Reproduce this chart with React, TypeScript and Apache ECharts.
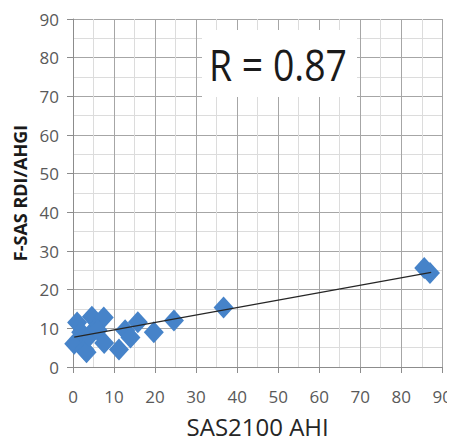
import React, { useEffect, useRef } from "react";
import * as echarts from "echarts";

// SAS2100 AHI (x) vs F-SAS RDI/AHGI (y)
const xValues = [0.3, 1.0, 2.0, 2.8, 3.3, 4.6, 5.5, 4.0, 7.5, 6.0, 7.6, 11.2, 12.7, 14.0, 15.8, 19.7, 24.6, 36.7, 85.6, 87.0];
const yValues = [6.0, 11.5, 9.0, 4.5, 3.8, 13.0, 10.0, 8.0, 12.8, 9.5, 6.2, 4.5, 9.5, 7.6, 11.6, 9.0, 12.0, 15.4, 25.6, 24.3];
// Linear trend line endpoints
const trendX = [0.3, 87.3];
const trendY = [7.7, 24.5];
const rLabel = "R = 0.87";
const xTitle = "SAS2100 AHI";
const yTitle = "F-SAS RDI/AHGI";
const axisMin = 0;
const axisMax = 90;
const axisStep = 10;

export default function App() {
  const ref = useRef<HTMLDivElement>(null);
  useEffect(() => {
    if (!ref.current) return;
    const chart = echarts.init(ref.current, undefined, { renderer: "svg" });
    const font = "'Open Sans', 'Noto Sans', sans-serif";
    const axisCommon = {
      min: axisMin,
      max: axisMax,
      interval: axisStep,
      minorTick: { show: false, splitNumber: 2 },
      minorSplitLine: { show: true, lineStyle: { color: "#dcdcdc", width: 1 } },
      splitLine: { show: true, lineStyle: { color: "#a6a6a6", width: 1 } },
      axisLine: { show: true, lineStyle: { color: "#8c8c8c", width: 1 } },
      axisTick: { show: true, length: 6, lineStyle: { color: "#8c8c8c" } },
    };
    chart.setOption({
      animation: false,
      backgroundColor: "#ffffff",
      grid: { left: 73, right: 12, top: 19, bottom: 79, containLabel: false },
      xAxis: {
        type: "value",
        ...axisCommon,
        axisLabel: { color: "#595959", fontSize: 17, fontFamily: font, margin: 21 },
        name: xTitle,
        nameLocation: "middle",
        nameGap: 47,
        nameTextStyle: { color: "#262626", fontSize: 24, fontFamily: font },
      },
      yAxis: {
        type: "value",
        ...axisCommon,
        axisLabel: { color: "#595959", fontSize: 17, fontFamily: font, margin: 14 },
        name: yTitle,
        nameLocation: "middle",
        nameGap: 42,
        nameRotate: 90,
        nameTextStyle: { color: "#1a1a1a", fontSize: 18, fontWeight: "bold", fontFamily: font },
      },
      graphic: [
        {
          type: "rect",
          shape: { x: 202, y: 30, width: 155, height: 67 },
          style: { fill: "#ffffff" },
          z: 5,
        },
        {
          type: "text",
          x: 278,
          y: 64,
          scaleX: 0.85,
          style: {
            text: rLabel,
            fill: "#1a1a1a",
            fontSize: 44,
            fontFamily: font,
            textAlign: "center",
            textVerticalAlign: "middle",
          },
          z: 6,
        },
      ],
      series: [
        {
          type: "scatter",
          data: xValues.map((x, i) => [x, yValues[i]]),
          symbol: "diamond",
          symbolSize: [20, 22],
          itemStyle: { color: "#4683c9", opacity: 1 },
          z: 3,
        },
        {
          type: "line",
          data: trendX.map((x, i) => [x, trendY[i]]),
          symbol: "none",
          lineStyle: { color: "#262626", width: 1.3 },
          z: 4,
        },
      ],
    });
    return () => chart.dispose();
  }, []);
  return <div ref={ref} style={{ width: 455, height: 446, margin: -8 }} />;
}
